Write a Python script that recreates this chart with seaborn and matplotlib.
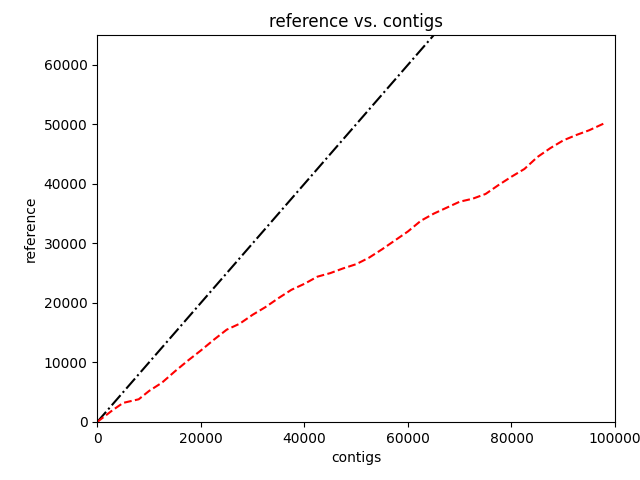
import matplotlib
matplotlib.use("Agg")
import matplotlib.pyplot as plt
import seaborn as sns
import pandas as pd

# alignment path (contig position -> reference position)
contig_pos = [0, 3000, 5000, 8000, 10000, 12500, 15000, 17500, 20000, 22500, 25000,
              27500, 30000, 32500, 35000, 37500, 40000, 42500, 45000, 47500, 50000,
              52500, 55000, 57500, 60000, 62500, 65000, 67500, 70000, 72500, 75000,
              77500, 80000, 82500, 85000, 87500, 90000, 92500, 95000, 98000]
ref_pos = [0, 2000, 3200, 3800, 5200, 6600, 8500, 10300, 12000, 13800, 15500,
           16500, 18000, 19300, 20800, 22200, 23200, 24400, 25000, 25800, 26500,
           27600, 29000, 30500, 32000, 33800, 35000, 36000, 37000, 37500, 38300,
           39800, 41200, 42500, 44500, 46000, 47300, 48200, 49000, 50200]
diag = [0, 65000]

df = pd.DataFrame({"contigs": contig_pos, "reference": ref_pos})
diag_df = pd.DataFrame({"contigs": diag, "reference": diag})

fig, ax = plt.subplots(figsize=(6.4, 4.8), dpi=100)
sns.lineplot(data=diag_df, x="contigs", y="reference", ax=ax, color="black",
             linestyle="-.", linewidth=1.5)
sns.lineplot(data=df, x="contigs", y="reference", ax=ax, color="red",
             linestyle="--", linewidth=1.5)
ax.set_xlim(0, 100000)
ax.set_ylim(0, 65000)
ax.set_title("reference vs. contigs")
ax.set_xlabel("contigs")
ax.set_ylabel("reference")
fig.subplots_adjust(left=0.152, right=0.961, top=0.927, bottom=0.121)
fig.savefig("out.png", dpi=100)
